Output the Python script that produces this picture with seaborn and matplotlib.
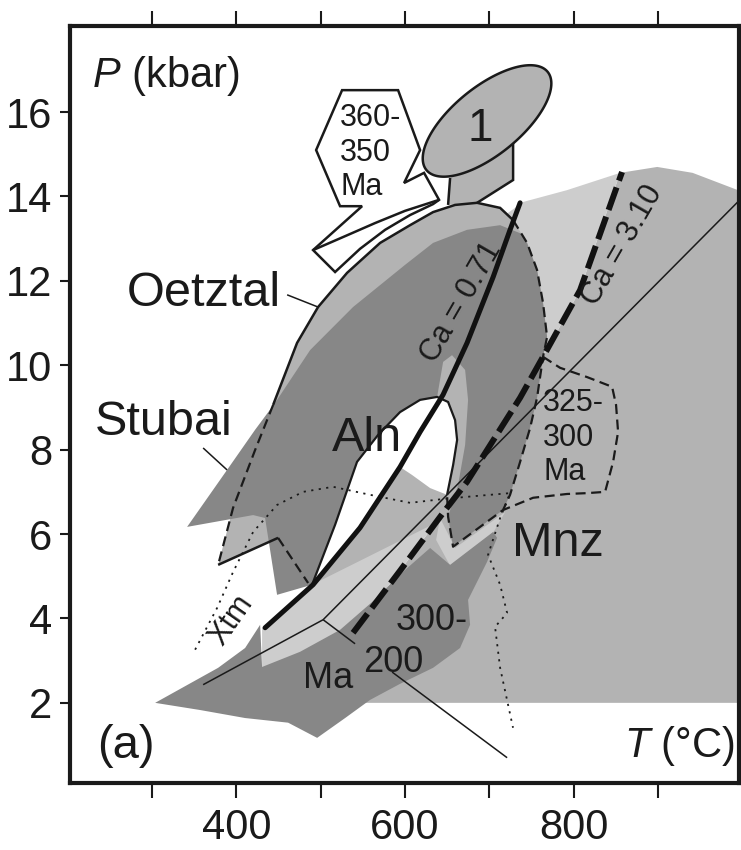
import numpy as np
import matplotlib
matplotlib.use("Agg")
import matplotlib.pyplot as plt
import seaborn as sns

# ---------------- P-T data (T in deg C, P in kbar) ----------------
t_ticks = [300, 400, 500, 600, 700, 800, 900]
t_labels = ["", "400", "", "600", "", "800", ""]
p_ticks = [2, 4, 6, 8, 10, 12, 14, 16]

# monazite (Mnz) field
mnz_field = [(523, 2.0), (1000, 2.0), (1000, 14.11), (941, 14.56), (899, 14.70),
             (855, 14.56), (807.5, 11.78), (763.6, 10.20), (736.4, 9.23),
             (673.5, 7.24), (645, 6.50), (594, 5.13), (538.3, 3.66), (523, 3.02)]

# light field around the allanite (Aln) field
aln_halo = [(718.6, 13.56), (740, 13.87), (792, 14.15), (855, 14.56), (807.5, 11.78),
            (763.6, 10.20), (736.4, 9.23), (673.5, 7.24), (645, 6.50), (594, 5.13),
            (538.3, 3.66), (511, 3.26), (430.4, 2.73), (430.4, 3.78), (490.9, 4.80),
            (543, 7.71), (594, 9.65), (653.4, 11.78)]

notch_light = [(641.5, 6.38), (659.3, 5.67), (718.6, 6.52), (704.4, 6.03),
               (653.4, 5.25), (636.8, 5.86)]

# Oetztal field
oetztal_field = [(378.3, 5.27), (396, 6.62), (422.1, 7.99), (443.5, 9.06), (471.9, 10.53),
                 (496.8, 11.38), (531.2, 12.19), (570.4, 12.90), (605.9, 13.32),
                 (633.2, 13.63), (659.3, 13.80), (685.4, 13.85), (712.7, 13.73),
                 (728.1, 13.44), (744.7, 12.90), (756.5, 12.26), (763.6, 11.48),
                 (768.4, 10.67), (763.6, 10.20), (756.5, 9.23), (748.2, 8.51),
                 (736.4, 7.71), (724.5, 6.93), (716.2, 6.57), (656.9, 5.70),
                 (651, 6.41), (489.7, 4.80), (485, 4.84), (449.4, 5.91)]

# Stubai field (dark)
stubai_field = [(341.5, 6.17), (388.9, 7.52), (422.1, 8.47), (445.9, 9.11), (487.4, 10.36),
                (538.3, 11.38), (600, 12.38), (633.2, 12.90), (673.5, 13.21),
                (712.7, 13.32), (736.4, 13.13), (744.7, 12.90), (756.5, 12.26),
                (763.6, 11.48), (768.4, 10.67), (763.6, 10.20), (756.5, 9.23),
                (748.2, 8.51), (736.4, 7.71), (724.5, 6.93), (716.2, 6.57),
                (656.9, 5.70), (651, 6.41), (662.8, 7.16), (671.2, 8.11), (674.7, 9.18),
                (671.2, 9.89), (655.7, 10.24), (645.1, 10.08), (638, 9.25),
                (617.8, 9.18), (594, 8.89), (568, 8.35), (543, 7.71), (517, 6.22),
                (489.7, 4.80), (448.2, 4.56), (434, 6.38), (419.8, 6.45)]

# 300-200 Ma field
band_300_200 = [(303.6, 2.0), (378.3, 2.83), (410.3, 3.30), (428.1, 3.85), (430.4, 2.85),
                (475.5, 3.21), (522.9, 3.73), (560.9, 4.39), (600, 5.15), (629.7, 5.67),
                (653.4, 5.27), (704.4, 6.05), (709.1, 5.91), (697.2, 5.34), (674.7, 4.44),
                (677.1, 3.85), (665.2, 3.30), (633.2, 2.83), (594, 2.45), (558.5, 2.07),
                (528.9, 1.64), (495.7, 1.17), (461.3, 1.53), (410.3, 1.64), (356.9, 1.83)]

# Aln field
aln_field = [(489.7, 4.80), (517, 6.22), (543, 7.71), (568, 8.35), (594, 8.89),
             (617.8, 9.18), (638, 9.25), (651, 9.13), (659.3, 8.70), (661.7, 8.23),
             (657, 7.64), (649.8, 6.93), (629.7, 7.09), (608.3, 7.40), (594, 7.59),
             (546.6, 6.15), (490.9, 4.80)]
aln_edge = aln_field[:12]

# 360-350 Ma callout
callout_360 = [(525.3, 16.52), (591.7, 16.52), (617.8, 15.10), (598.8, 14.32),
               (622.5, 14.56), (640.3, 13.92), (633.2, 13.82), (605.9, 13.56),
               (576.3, 13.21), (546.6, 12.76), (517, 12.21), (490.9, 12.73),
               (549, 13.77), (522.9, 13.77), (494.5, 15.10)]
callout_inner = [(490.9, 12.73), (528.9, 13.06), (564.4, 13.37), (600, 13.66), (640.3, 13.92)]

# peak field "1": ellipse centre and conjugate half axes, plus its stem
peak_center = (697.2, 15.79)
peak_axis_a = (71.9, 1.163)
peak_axis_b = (25.4, -0.626)
peak_stem = [(651, 13.80), (653.4, 14.44), (728.1, 15.31), (728.1, 14.39), (685.4, 13.85)]

# boundary lines
oetztal_arc = [(443.5, 9.06), (471.9, 10.53), (496.8, 11.38), (531.2, 12.19), (570.4, 12.90),
               (605.9, 13.32), (633.2, 13.63), (659.3, 13.80), (685.4, 13.85),
               (712.7, 13.73), (728.1, 13.44)]
oetztal_right = [(728.1, 13.44), (744.7, 12.90), (756.5, 12.26), (763.6, 11.48),
                 (768.4, 10.67), (763.6, 10.20), (756.5, 9.23), (748.2, 8.51),
                 (736.4, 7.71), (724.5, 6.93), (716.2, 6.57), (656.9, 5.70),
                 (651, 6.41), (649.8, 6.93)]
oetztal_left = [(443.5, 9.06), (422.1, 7.99), (396, 6.62), (378.3, 5.27)]
oetztal_base = [(378.3, 5.27), (449.4, 5.91)]
oetztal_base_dash = [(449.4, 5.91), (485, 4.84)]
field_325_300 = [(763.6, 10.20), (783.8, 9.94), (815.8, 9.72), (845.5, 9.49), (850.2, 9.06),
                 (852.6, 8.42), (846.7, 7.71), (837.2, 7.00), (815.8, 6.97),
                 (792.1, 6.95), (751.8, 6.86), (716.2, 6.57)]

ca071_T = [434, 490.9, 546.6, 594, 617.8, 645, 673.5, 704.4, 724.5, 736.4]
ca071_P = [3.78, 4.80, 6.15, 7.59, 8.42, 9.30, 10.53, 12.09, 13.21, 13.85]
ca310_T = [538.3, 594, 645, 673.5, 736.4, 763.6, 807.5, 857.3]
ca310_P = [3.66, 5.13, 6.50, 7.24, 9.23, 10.20, 11.78, 14.58]

xtm_T = [351, 377.1, 396, 419.8, 448.2, 479, 514.6, 558.5, 605.9, 645, 683, 724.5,
         712.7, 698.4, 712.7, 721, 706.7, 712.7, 728]
xtm_P = [3.26, 4.25, 5.10, 6.05, 6.69, 7.00, 7.12, 6.93, 6.74, 6.83, 6.90, 6.97,
         6.38, 5.51, 4.80, 4.13, 3.80, 2.83, 1.41]

thin_line = [(360.5, 2.43), (502.8, 3.97), (997, 13.92)]
leader_ma = [[(502.8, 3.97), (540.7, 3.40)], [(584.6, 2.73), (721, 0.70)]]
leader_oetztal = [(460.1, 11.67), (496.8, 11.38)]
leader_stubai = [(360.5, 8.04), (388.9, 7.52)]

# ---------------- style ----------------
sns.set_theme(style="white")
plt.rcParams["font.family"] = ["Liberation Sans", "DejaVu Sans"]
plt.rcParams["mathtext.fontset"] = "custom"
plt.rcParams["mathtext.it"] = "Liberation Sans:italic"
plt.rcParams["mathtext.rm"] = "Liberation Sans"

INK = "#1a1a1a"
DARK = "#878787"
MID = "#b3b3b3"
LIGHT = "#cdcdcd"

fig = plt.figure(figsize=(7.41, 8.5), dpi=100)
ax = fig.add_axes([0.0949, 0.0788, 0.9024, 0.8906])
ax.set_facecolor("white")


def fill(pts, color, z, edge=None, lw=0):
    xs, ys = zip(*pts)
    ax.fill(xs, ys, facecolor=color, edgecolor=edge if edge else "none",
            linewidth=lw, zorder=z)


def line(pts, z=5, lw=1.8, ls="-", color=INK):
    xs, ys = zip(*pts)
    ax.plot(xs, ys, color=color, lw=lw, linestyle=ls, zorder=z,
            solid_capstyle="butt", dash_capstyle="butt", solid_joinstyle="miter")


# filled fields, back to front
fill(mnz_field, MID, 1)
fill(aln_halo, LIGHT, 1.1)
fill(notch_light, LIGHT, 1.15)
fill(oetztal_field, MID, 1.2)
fill(stubai_field, DARK, 1.3)
fill(band_300_200, DARK, 1.4)
fill(aln_field, "white", 1.5)

# peak field "1"
fill(peak_stem, MID, 1.6)
line([peak_stem[0], peak_stem[1]], z=1.65, lw=1.8)
line([peak_stem[2], peak_stem[3], peak_stem[4]], z=1.65, lw=1.8)
tt = np.linspace(0, 2 * np.pi, 240)
ell_T = peak_center[0] + peak_axis_a[0] * np.cos(tt) + peak_axis_b[0] * np.sin(tt)
ell_P = peak_center[1] + peak_axis_a[1] * np.cos(tt) + peak_axis_b[1] * np.sin(tt)
ax.fill(ell_T, ell_P, facecolor=MID, edgecolor=INK, linewidth=1.8, zorder=1.7)

# 360-350 Ma callout
fill(callout_360, "white", 1.8, edge=INK, lw=1.8)
line(callout_inner, z=1.85, lw=1.8)

# outlines
dash = (0, (4.5, 2.5))
line(oetztal_arc, lw=1.8)
line(oetztal_right, lw=1.6, ls=dash)
line(oetztal_left, lw=1.6, ls=dash)
line(oetztal_base, lw=1.8)
line(oetztal_base_dash, lw=1.6, ls=dash)
line(field_325_300, lw=1.6, ls=dash)
line(aln_edge, lw=1.6)

# thin lines and leaders
line(thin_line, lw=1.1)
for seg in leader_ma:
    line(seg, lw=1.1)
line(leader_oetztal, lw=1.1)
line(leader_stubai, lw=1.1)

# Xtm curve and Ca isopleths
sns.lineplot(x=xtm_T, y=xtm_P, sort=False, estimator=None, color=INK, lw=1.3,
             linestyle=(0, (1.2, 3.0)), ax=ax, zorder=5)
sns.lineplot(x=ca071_T, y=ca071_P, sort=False, estimator=None, color="#111111",
             lw=3.6, ax=ax, zorder=6)
sns.lineplot(x=ca310_T, y=ca310_P, sort=False, estimator=None, color="#111111",
             lw=4.3, linestyle=(0, (4.0, 1.2)), ax=ax, zorder=6)

# labels
tc = "#1a1a1a"
ax.text(228.9, 16.59, "$P$ (kbar)", fontsize=30, color=tc, ha="left", va="baseline")
ax.text(991.3, 0.72, "$T$ (°C)", fontsize=30, color=tc, ha="right", va="baseline")
ax.text(234.8, 0.70, "(a)", fontsize=34, color=tc, ha="left", va="baseline")
ax.text(361.7, 11.70, "Oetztal", fontsize=35, color=tc, ha="center", va="center")
ax.text(314.2, 8.65, "Stubai", fontsize=35, color=tc, ha="center", va="center")
ax.text(554.4, 8.27, "Aln", fontsize=35, color=tc, ha="center", va="center")
ax.text(780.8, 5.78, "Mnz", fontsize=35, color=tc, ha="center", va="center")
ax.text(688.9, 15.61, "1", fontsize=33, color=tc, ha="center", va="center")
ax.text(522.9, 15.04, "360-\n350\nMa", fontsize=22, color=tc, ha="left", va="center",
        linespacing=1.2)
ax.text(763.6, 8.28, "325-\n300\nMa", fontsize=22, color=tc, ha="left", va="center",
        linespacing=1.2)
ax.text(589.3, 3.73, "300-", fontsize=26, color=tc, ha="left", va="baseline", zorder=7)
ax.text(550.2, 2.73, "200", fontsize=26, color=tc, ha="left", va="baseline", zorder=7)
ax.text(479.1, 2.36, "Ma", fontsize=26, color=tc, ha="left", va="baseline", zorder=7)
ax.text(666.9, 11.49, "Ca = 0.71", fontsize=22, color=tc, rotation=60,
        rotation_mode="anchor", ha="center", va="center", zorder=7)
ax.text(857.9, 12.85, "Ca = 3.10", fontsize=22, color=tc, rotation=60,
        rotation_mode="anchor", ha="center", va="center", zorder=7)
ax.text(394.3, 3.97, "Xtm", fontsize=22, color=tc, rotation=55,
        rotation_mode="anchor", ha="center", va="center", zorder=7)

# axes frame and ticks
ax.set_xlim(203, 996)
ax.set_ylim(0.1, 18.04)
ax.set_xticks(t_ticks)
ax.set_xticklabels(t_labels)
ax.set_yticks(p_ticks)
ax.set_yticklabels([str(v) for v in p_ticks])
ax.set_xlabel("")
ax.set_ylabel("")
for side, sp in ax.spines.items():
    sp.set_visible(True)
    sp.set_linewidth(3)
    sp.set_color(INK)
    sp.set_zorder(10)
ax.tick_params(axis="x", which="both", direction="out", length=11, width=1.5,
               bottom=True, top=True, labelbottom=True, labeltop=False,
               labelsize=30, pad=7, colors=INK)
ax.tick_params(axis="y", which="both", direction="out", length=7, width=1.5,
               left=True, right=False, labelsize=30, pad=6, colors=INK)
ax.grid(False)

fig.savefig("out.png", dpi=100, facecolor="white")
